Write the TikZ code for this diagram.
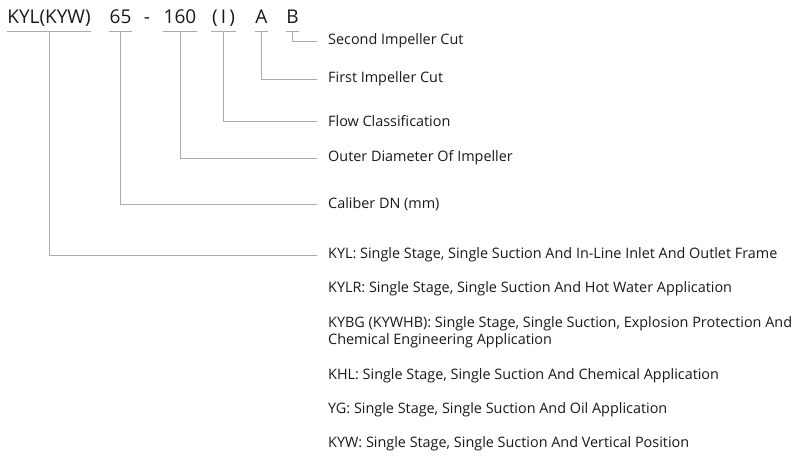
\documentclass[tikz,border=0pt]{standalone}
\usepackage{fontspec}
\setmainfont{Open Sans}

\begin{document}
\begin{tikzpicture}[x=1pt,y=-1pt,
  every node/.style={font=\fontsize{14.4}{17}\selectfont,text=black!90},
  code/.style={font=\fontsize{19}{21}\selectfont,anchor=base,inner xsep=0.5pt,inner ysep=2pt,text depth=5pt},
  lbl/.style={anchor=west,inner xsep=11pt,inner ysep=1pt,align=left},
  lead/.style={draw=black!33,line width=0.9pt}]
  \useasboundingbox (0,0) rectangle (800,468);
  % model code
  \node[code] (kyl) at (49,24) {KYL(KYW)};
  \node[code] (dn) at (120.5,24) {65};
  \node[code] (dash) at (147,24) {-};
  \node[code] (dia) at (180,24) {160};
  \node[code] (flow) at (223.5,24) {(\,I\,)};
  \node[code] (cuta) at (261.5,24) {A};
  \node[code] (cutb) at (292.5,24) {B};
  % meanings
  \node[lbl] (lb) at (317,41) {Second Impeller Cut};
  \node[lbl] (la) at (317,79) {First Impeller Cut};
  \node[lbl] (lf) at (317,121) {Flow Classification};
  \node[lbl] (ld) at (317,158) {Outer Diameter Of Impeller};
  \node[lbl] (ln) at (317,204) {Caliber DN (mm)};
  \node[lbl] (t1) at (317,255) {KYL: Single Stage, Single Suction And In-Line Inlet And Outlet Frame};
  \node[lbl] (t2) at (317,289) {KYLR: Single Stage, Single Suction And Hot Water Application};
  \node[lbl] (t3) at (317,332.5) {KYBG (KYWHB): Single Stage, Single Suction, Explosion Protection And\\Chemical Engineering Application};
  \node[lbl] (t4) at (317,376) {KHL: Single Stage, Single Suction And Chemical Application};
  \node[lbl] (t5) at (317,410) {YG: Single Stage, Single Suction And Oil Application};
  \node[lbl] (t6) at (317,444) {KYW: Single Stage, Single Suction And Vertical Position};
  % underlines and leaders
  \foreach \c in {kyl,dn,dia,flow,cuta,cutb}
    \draw[lead] (\c.south west) -- (\c.south east);
  \draw[lead] (cutb.south) |- (lb.west);
  \draw[lead] (cuta.south) |- (la.west);
  \draw[lead] (flow.south) |- (lf.west);
  \draw[lead] (dia.south) |- (ld.west);
  \draw[lead] (dn.south) |- (ln.west);
  \draw[lead] (kyl.south) |- (t1.west);
\end{tikzpicture}
\end{document}
